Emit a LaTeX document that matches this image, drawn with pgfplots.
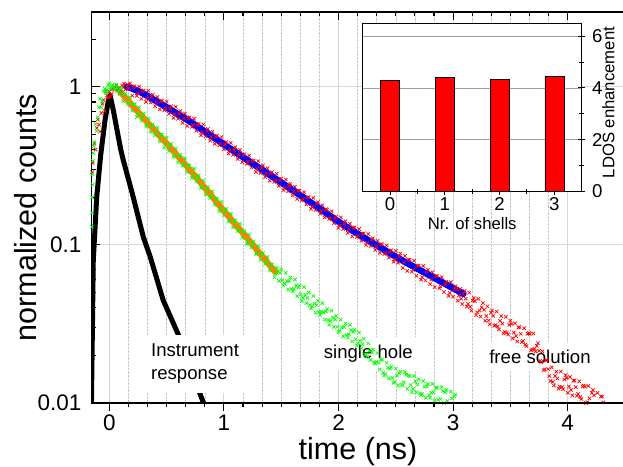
\documentclass[border=0pt]{standalone}
\usepackage{fontspec}
\setmainfont{Liberation Sans}
\usepackage{pgfplots}
\pgfplotsset{compat=1.18}
\definecolor{lime}{RGB}{0,255,0}
\definecolor{fitorange}{RGB}{255,128,0}

\pgfplotsset{
  mainbox/.style={
    at={(91.7bp,64bp)}, anchor=south west,
    scale only axis, width=532.8bp, height=391bp,
    xmin=-0.1536, xmax=4.4956,
    major tick length=8bp, minor tick length=4.5bp,
    every tick/.style={black, line width=1.1bp},
    axis line style={line width=1.3bp},
  },
  scat/.style={only marks, mark=x, mark size=2.4bp, mark options={line width=0.7bp}},
}

\begin{document}
\begin{tikzpicture}
\path[use as bounding box] (0,0) rectangle (623bp,467bp);

% decay curves
\begin{axis}[
  mainbox,
  ymode=log, ymin=0.01, ymax=2.967,
  xtick={0,1,2,3,4}, xticklabels={},
  minor x tick num=5,
  ytick={0.01,0.1,1}, yticklabels={0.01,0.1,1},
  minor ytick={0.02,0.03,0.04,0.05,0.06,0.07,0.08,0.09,0.2,0.3,0.4,0.5,0.6,0.7,0.8,0.9,2},
  xtick pos=top, ytick pos=left, tick align=inside,
  xmajorgrids, xminorgrids, ymajorgrids,
  major grid style={gray!30, line width=0.9bp},
  minor grid style={gray!45, densely dotted, line width=0.6bp},
  yticklabel style={font=\fontsize{22.5bp}{24bp}\selectfont, anchor=east, inner sep=0pt, xshift=-10bp},
  ylabel={normalized counts},
  ylabel style={font=\fontsize{30.5bp}{34bp}\selectfont, at={(axis description cs:-0.1027,0.4744)}, anchor=south, inner sep=0pt},
]
% free solution: band centre
\addplot[scat, red] coordinates {
(-0.15,0.288) (-0.13,0.437) (-0.11,0.547) (-0.09,0.575) (-0.07,0.682) (-0.05,0.822)
(-0.03,0.933) (-0.01,0.851) (0.01,0.865) (0.03,0.979) (0.05,0.993) (0.07,0.944)
(0.09,0.910) (0.11,1.019) (0.13,1.047) (0.17,0.979) (0.21,0.990) (0.25,0.914)
(0.29,0.933) (0.33,0.845) (0.37,0.862) (0.41,0.798) (0.45,0.805) (0.49,0.730)
(0.53,0.727) (0.57,0.669) (0.61,0.674) (0.65,0.631) (0.69,0.630) (0.73,0.573)
(0.77,0.574) (0.81,0.516) (0.85,0.523) (0.89,0.482) (0.93,0.483) (0.97,0.436)
(1.01,0.431) (1.05,0.396) (1.09,0.398) (1.13,0.372) (1.17,0.368) (1.21,0.335)
(1.25,0.337) (1.29,0.303) (1.33,0.307) (1.37,0.282) (1.41,0.284) (1.45,0.256)
(1.49,0.255) (1.53,0.229) (1.57,0.236) (1.61,0.217) (1.65,0.220) (1.69,0.195)
(1.73,0.200) (1.77,0.174) (1.81,0.182) (1.85,0.164) (1.89,0.168) (1.93,0.147)
(1.97,0.147) (2.01,0.132) (2.05,0.136) (2.09,0.126) (2.13,0.128) (2.17,0.114)
(2.21,0.118) (2.25,0.103) (2.29,0.108) (2.33,0.0980) (2.37,0.101) (2.41,0.0891)
(2.45,0.0899) (2.49,0.0811) (2.53,0.0845) (2.57,0.0774) (2.61,0.0804) (2.65,0.0695)
(2.69,0.0736) (2.73,0.0625) (2.77,0.0676) (2.81,0.0603) (2.85,0.0637) (2.89,0.0545)
(2.93,0.0561) (2.97,0.0497) (3.01,0.0525) (3.05,0.0478) (3.09,0.0491) (3.13,0.0423)
(3.17,0.0444) (3.21,0.0374) (3.25,0.0402) (3.29,0.0355) (3.33,0.0373) (3.37,0.0311)
(3.41,0.0331) (3.45,0.0281) (3.49,0.0312) (3.53,0.0279) (3.57,0.0300) (3.61,0.0247)
(3.65,0.0274) (3.69,0.0218) (3.73,0.0230) (3.77,0.0182) (3.81,0.0186) (3.85,0.0138)
(3.89,0.0148) (3.93,0.0127) (3.97,0.0141) (4.01,0.0127) (4.05,0.0138) (4.09,0.0114)
(4.13,0.0127) (4.17,0.0101) (4.21,0.0116) (4.25,0.00993) (4.29,0.0110) (4.33,0.00886)
(3.03,0.0524) (3.07,0.0456) (3.11,0.0457) (3.15,0.0405) (3.19,0.0440) (3.23,0.0384)
(3.27,0.0389) (3.31,0.0333) (3.35,0.0356) (3.39,0.0305) (3.43,0.0318) (3.47,0.0279)
(3.51,0.0316) (3.55,0.0265) (3.59,0.0274) (3.63,0.0234) (3.67,0.0274) (3.71,0.0220)
(3.75,0.0214) (3.79,0.0161) (3.83,0.0164) (3.87,0.0136) (3.91,0.0143) (3.95,0.0126)
(3.99,0.0144) (4.03,0.0121) (4.07,0.0126) (4.11,0.0109) (4.15,0.0127) (4.19,0.0107)
(4.23,0.0112) (4.27,0.0091) (4.31,0.0101)
(-0.145,0.33) (-0.12,0.40) (-0.10,0.62) (-0.08,0.52) (-0.06,0.78) (-0.04,0.70)
(-0.02,0.88) (0.0,0.93) (0.02,0.90) (0.04,0.96) (0.06,1.02) (0.08,0.98)
(0.10,0.95) (0.12,1.0) (0.14,0.96) (0.16,1.03)
};
% free solution: band edges
\addplot[scat, red] coordinates {
(0.18,1.050) (0.22,1.007) (0.26,1.002) (0.30,0.948) (0.34,0.944) (0.38,0.891)
(0.42,0.861) (0.46,0.817) (0.50,0.804) (0.54,0.752) (0.58,0.745) (0.62,0.702)
(0.66,0.676) (0.70,0.641) (0.74,0.628) (0.78,0.583) (0.82,0.577) (0.86,0.541)
(0.90,0.520) (0.94,0.490) (0.98,0.480) (1.02,0.446) (1.06,0.441) (1.10,0.414)
(1.14,0.398) (1.18,0.375) (1.22,0.367) (1.26,0.342) (1.30,0.338) (1.34,0.318)
(1.38,0.305) (1.42,0.288) (1.46,0.282) (1.50,0.262) (1.54,0.259) (1.58,0.243)
(1.62,0.233) (1.66,0.220) (1.70,0.215) (1.74,0.200) (1.78,0.198) (1.82,0.186)
(1.86,0.178) (1.90,0.167) (1.94,0.163) (1.98,0.151) (2.02,0.149) (2.06,0.141)
(2.10,0.136) (2.14,0.129) (2.18,0.126) (2.22,0.118) (2.26,0.117) (2.30,0.110)
(2.34,0.106) (2.38,0.1007) (2.42,0.0991) (2.46,0.0925) (2.50,0.0916) (2.54,0.0881)
(2.58,0.0851) (2.62,0.0807) (2.66,0.0793) (2.70,0.0741) (2.74,0.0736) (2.78,0.0695)
(2.82,0.0671) (2.86,0.0635) (2.90,0.0625) (2.94,0.0585) (2.98,0.0581) (3.02,0.0547)
(3.06,0.0525)
(0.20,0.877) (0.24,0.875) (0.28,0.839) (0.32,0.802) (0.36,0.794) (0.40,0.752)
(0.44,0.719) (0.48,0.710) (0.52,0.673) (0.56,0.635) (0.60,0.627) (0.64,0.592)
(0.68,0.565) (0.72,0.557) (0.76,0.526) (0.80,0.493) (0.84,0.485) (0.88,0.456)
(0.92,0.435) (0.96,0.426) (1.00,0.402) (1.04,0.377) (1.08,0.371) (1.12,0.349)
(1.16,0.333) (1.20,0.326) (1.24,0.308) (1.28,0.289) (1.32,0.284) (1.36,0.268)
(1.40,0.255) (1.44,0.250) (1.48,0.236) (1.52,0.222) (1.56,0.218) (1.60,0.205)
(1.64,0.195) (1.68,0.191) (1.72,0.180) (1.76,0.169) (1.80,0.166) (1.84,0.157)
(1.88,0.149) (1.92,0.146) (1.96,0.137) (2.00,0.128) (2.04,0.126) (2.08,0.119)
(2.12,0.113) (2.16,0.112) (2.20,0.106) (2.24,0.0998) (2.28,0.0984) (2.32,0.0929)
(2.36,0.0889) (2.40,0.0875) (2.44,0.0830) (2.48,0.0782) (2.52,0.0771) (2.56,0.0715)
(2.60,0.0684) (2.64,0.0675) (2.68,0.0638) (2.72,0.0603) (2.76,0.0596) (2.80,0.0564)
(2.84,0.0540) (2.88,0.0531) (2.92,0.0504) (2.96,0.0475) (3.00,0.0470) (3.04,0.0444)
(3.08,0.0422)
(3.10,0.0511) (3.14,0.0499) (3.18,0.0462) (3.22,0.0456) (3.26,0.0428) (3.30,0.0409)
(3.34,0.0385) (3.38,0.0379) (3.42,0.0354) (3.46,0.0351) (3.50,0.0331) (3.54,0.0319)
(3.58,0.0303) (3.62,0.0297) (3.66,0.0277) (3.70,0.0275) (3.74,0.0239) (3.78,0.0212)
(3.82,0.0186) (3.86,0.0168) (3.90,0.0158) (3.94,0.0158) (3.98,0.0150) (4.02,0.0146)
(4.06,0.0139) (4.10,0.0137) (4.14,0.0129) (4.18,0.0128) (4.22,0.0121) (4.26,0.0116)
(4.30,0.0110)
(3.12,0.0407) (3.16,0.0384) (3.20,0.0359) (3.24,0.0352) (3.28,0.0331) (3.32,0.0314)
(3.36,0.0308) (3.40,0.0292) (3.44,0.0275) (3.48,0.0271) (3.52,0.0256) (3.56,0.0245)
(3.60,0.0242) (3.64,0.0229) (3.68,0.0215) (3.72,0.0212) (3.76,0.0185) (3.80,0.0163)
(3.84,0.0148) (3.88,0.0129) (3.92,0.0123) (3.96,0.0122) (4.00,0.0116) (4.04,0.0112)
(4.08,0.0111) (4.12,0.0106) (4.16,0.0100) (4.20,0.0099) (4.24,0.0093) (4.28,0.0089)
(4.32,0.0088)
};
% single hole: band centre
\addplot[scat, lime] coordinates {
(-0.153,0.130) (-0.150,0.200) (-0.147,0.280) (-0.140,0.380) (-0.13,0.447) (-0.11,0.525)
(-0.09,0.741) (-0.07,0.741) (-0.05,0.933) (-0.03,0.912) (-0.01,1.023) (0.01,0.966)
(0.03,1.028) (0.05,0.955) (0.07,0.986) (0.09,0.902) (0.13,0.888) (0.17,0.792)
(0.21,0.773) (0.25,0.675) (0.29,0.649) (0.33,0.579) (0.37,0.564) (0.41,0.512)
(0.45,0.494) (0.49,0.436) (0.53,0.425) (0.57,0.370) (0.61,0.364) (0.65,0.325)
(0.69,0.317) (0.73,0.276) (0.77,0.264) (0.81,0.2335) (0.85,0.226) (0.89,0.203)
(0.93,0.1948) (0.97,0.1706) (1.01,0.1652) (1.05,0.1435) (1.09,0.1407) (1.13,0.1253)
(1.17,0.1216) (1.21,0.1060) (1.25,0.1013) (1.29,0.0897) (1.33,0.0868) (1.37,0.0780)
(1.41,0.0747) (1.45,0.0655) (1.49,0.0664) (1.53,0.0566) (1.57,0.0592) (1.61,0.0526)
(1.65,0.0538) (1.69,0.0462) (1.73,0.0462) (1.77,0.0407) (1.81,0.0416) (1.85,0.0378)
(1.89,0.0380) (1.93,0.0329) (1.97,0.0337) (2.01,0.0286) (2.05,0.0302) (2.09,0.0272)
(2.13,0.0282) (2.17,0.0238) (2.21,0.0235) (2.25,0.0197) (2.29,0.0209) (2.33,0.0182)
(2.37,0.0188) (2.41,0.0152) (2.45,0.0165) (2.49,0.0136) (2.53,0.0154) (2.57,0.0135)
(2.61,0.0149) (2.65,0.0123) (2.69,0.0131) (2.73,0.0114) (2.77,0.0127) (2.81,0.0116)
(2.85,0.0125) (2.89,0.0106) (2.93,0.0117) (2.97,0.0097) (3.01,0.0110) (3.05,0.0097)
(1.47,0.0681) (1.51,0.0599) (1.55,0.0590) (1.59,0.0525) (1.63,0.0553) (1.67,0.0486)
(1.71,0.0483) (1.75,0.0416) (1.79,0.0426) (1.83,0.0377) (1.87,0.0373) (1.91,0.0334)
(1.95,0.0346) (1.99,0.0303) (2.03,0.0300) (2.07,0.0270) (2.11,0.0288) (2.15,0.0253)
(2.19,0.0248) (2.23,0.0203) (2.27,0.0214) (2.31,0.0180) (2.35,0.0180) (2.39,0.0155)
(2.43,0.0167) (2.47,0.0144) (2.51,0.0149) (2.55,0.0131) (2.59,0.0151) (2.63,0.0130)
(2.67,0.0137) (2.71,0.0115) (2.75,0.0127) (2.79,0.0112) (2.83,0.0117) (2.87,0.0105)
(2.91,0.0119) (2.95,0.0103) (2.99,0.0107) (3.03,0.0094)
(-0.151,0.16) (-0.146,0.24) (-0.143,0.34) (-0.135,0.42) (-0.12,0.58) (-0.10,0.64)
(-0.08,0.84) (-0.06,0.80) (-0.04,0.97) (-0.02,0.95) (0.0,1.05) (0.02,1.0)
(0.04,0.98) (0.06,1.03) (0.08,0.94) (0.10,0.96)
};
% single hole: band edges
\addplot[scat, lime] coordinates {
(0.10,0.986) (0.14,0.904) (0.18,0.857) (0.22,0.774) (0.26,0.741) (0.30,0.676)
(0.34,0.631) (0.38,0.578) (0.42,0.550) (0.46,0.497) (0.50,0.476) (0.54,0.435)
(0.58,0.405) (0.62,0.371) (0.66,0.352) (0.70,0.318) (0.74,0.303) (0.78,0.275)
(0.82,0.255) (0.86,0.232) (0.90,0.218) (0.94,0.196) (0.98,0.187) (1.02,0.169)
(1.06,0.157) (1.10,0.143) (1.14,0.136) (1.18,0.122) (1.22,0.116) (1.26,0.105)
(1.30,0.0977) (1.34,0.0889) (1.38,0.0838) (1.42,0.0752) (1.46,0.0716)
(0.12,0.809) (0.16,0.771) (0.20,0.705) (0.24,0.643) (0.28,0.612) (0.32,0.560)
(0.36,0.518) (0.40,0.493) (0.44,0.452) (0.48,0.412) (0.52,0.394) (0.56,0.360)
(0.60,0.332) (0.64,0.316) (0.68,0.289) (0.72,0.264) (0.76,0.251) (0.80,0.228)
(0.84,0.209) (0.88,0.198) (0.92,0.179) (0.96,0.163) (1.00,0.154) (1.04,0.140)
(1.08,0.129) (1.12,0.122) (1.16,0.111) (1.20,0.101) (1.24,0.0962) (1.28,0.0873)
(1.32,0.0802) (1.36,0.0759) (1.40,0.0689) (1.44,0.0624) (1.48,0.0592)
(1.50,0.0700) (1.54,0.0665) (1.58,0.0622) (1.62,0.0603) (1.66,0.0553) (1.70,0.0541)
(1.74,0.0501) (1.78,0.0475) (1.82,0.0443) (1.86,0.0428) (1.90,0.0393) (1.94,0.0383)
(1.98,0.0355) (2.02,0.0337) (2.06,0.0318) (2.10,0.0312) (2.14,0.0290) (2.18,0.0279)
(2.22,0.0255) (2.26,0.0238) (2.30,0.0218) (2.34,0.0207) (2.38,0.0188) (2.42,0.0180)
(2.46,0.0169) (2.50,0.0165) (2.54,0.0158) (2.58,0.0157) (2.62,0.0148) (2.66,0.0148)
(2.70,0.0141) (2.74,0.0138) (2.78,0.0132) (2.82,0.0132) (2.86,0.0125) (2.90,0.0126)
(2.94,0.0121) (2.98,0.0118) (3.02,0.0113)
(1.52,0.0555) (1.56,0.0522) (1.60,0.0508) (1.64,0.0474) (1.68,0.0440) (1.72,0.0428)
(1.76,0.0397) (1.80,0.0373) (1.84,0.0361) (1.88,0.0337) (1.92,0.0312) (1.96,0.0303)
(2.00,0.0281) (2.04,0.0264) (2.08,0.0259) (2.12,0.0245) (2.16,0.0231) (2.20,0.0221)
(2.24,0.0202) (2.28,0.0187) (2.32,0.0178) (2.36,0.0163) (2.40,0.0149) (2.44,0.0143)
(2.48,0.0134) (2.52,0.0129) (2.56,0.0129) (2.60,0.0123) (2.64,0.0117) (2.68,0.0117)
(2.72,0.0112) (2.76,0.0108) (2.80,0.0108) (2.84,0.0104) (2.88,0.0099) (2.92,0.0100)
(2.96,0.0095) (3.00,0.0093) (3.04,0.0092)
};
% instrument response
\addplot[black, line width=5bp, line join=round] coordinates {
(-0.158,0.008) (-0.155,0.011) (-0.14,0.079) (-0.11,0.2) (-0.075,0.37) (-0.038,0.61)
(-0.008,0.82) (0.006,0.885) (0.035,0.71) (0.079,0.48) (0.10,0.40) (0.122,0.343)
(0.2,0.212) (0.297,0.112) (0.357,0.084) (0.47,0.0447) (0.6,0.0273) (0.7,0.0178)
(0.8,0.011) (0.84,0.0093)
};
% fits
\addplot[blue, line width=6.5bp, line cap=round, smooth] coordinates {
(0.15,1.0) (0.2,0.973) (0.3,0.902) (0.4,0.818) (0.5,0.741) (0.6,0.670) (0.707,0.600)
(0.85,0.511) (1.0,0.432) (1.25,0.327) (1.5,0.248) (1.84,0.169) (2.0,0.140) (2.25,0.108)
(2.5,0.0841) (2.75,0.0668) (3.0,0.0532) (3.09,0.0490)
};
\addplot[fitorange, line width=6bp, line cap=round, smooth] coordinates {
(0.094,0.93) (0.3,0.631) (0.5,0.437) (0.707,0.296) (1.0,0.164) (1.2,0.111) (1.45,0.0671)
};
% labels
\node[fill=white, inner xsep=9bp, inner ysep=8.8bp, align=left, font=\fontsize{18.6bp}{23bp}\selectfont]
  at (axis cs:0.748,0.01765) {Instrument\\response};
\node[fill=white, inner xsep=6bp, inner ysep=7.7bp, font=\fontsize{18.6bp}{23bp}\selectfont]
  at (axis cs:2.260,0.0206) {single hole};
\node[fill=white, inner xsep=8.5bp, inner ysep=6.6bp, font=\fontsize{18.6bp}{23bp}\selectfont]
  at (axis cs:3.758,0.0196) {free solution};
\end{axis}

% bottom ticks, pointing out
\begin{axis}[
  mainbox,
  ymin=0, ymax=1, hide y axis,
  xtick={0,1,2,3,4}, xticklabels={0,1,2,3,4},
  minor x tick num=5,
  xtick pos=bottom, tick align=outside,
  xticklabel style={font=\fontsize{22.5bp}{24bp}\selectfont, anchor=north, inner sep=0pt, yshift=-4bp},
  xlabel={time (ns)},
  xlabel style={font=\fontsize{30.5bp}{34bp}\selectfont, at={(axis description cs:0.4998,0)}, anchor=north, inner sep=0pt, yshift=-34bp},
]
\end{axis}

% inset
\begin{axis}[
  at={(362.7bp,275.7bp)}, anchor=south west,
  scale only axis, width=219bp, height=168bp,
  axis background/.style={fill=white},
  ybar, bar width=19bp,
  xmin=-0.5, xmax=3.5, ymin=0, ymax=6.5,
  xtick={0,1,2,3}, xticklabels={0,1,2,3},
  minor xtick={0.5,1.5,2.5},
  ytick={0,2,4,6}, yticklabels={0,2,4,6},
  minor ytick={1,3,5},
  xtick pos=bottom, ytick pos=right, yticklabel pos=right,
  tick align=center,
  major tick length=7bp, minor tick length=4.5bp,
  every tick/.style={black, line width=1bp},
  axis line style={line width=1.3bp},
  ymajorgrids, major grid style={gray!75, line width=0.8bp},
  xticklabel style={font=\fontsize{18.6bp}{20bp}\selectfont, anchor=north, inner sep=0pt, yshift=-2.7bp},
  yticklabel style={font=\fontsize{18.6bp}{20bp}\selectfont, anchor=west, inner sep=0pt, xshift=6.6bp},
  xlabel={Nr. of shells},
  xlabel style={font=\fontsize{16.7bp}{18bp}\selectfont, at={(axis description cs:0.5,0)}, anchor=north, inner sep=0pt, yshift=-26.2bp},
  ylabel={LDOS enhancement},
  ylabel style={font=\fontsize{16.7bp}{18bp}\selectfont, at={(axis description cs:1.122,0.528)}, anchor=center, inner sep=0pt},
]
\addplot[fill=red, draw=black, line width=0.6bp] coordinates {(0,4.30) (1,4.40) (2,4.34) (3,4.45)};
\end{axis}
\end{tikzpicture}
\end{document}
